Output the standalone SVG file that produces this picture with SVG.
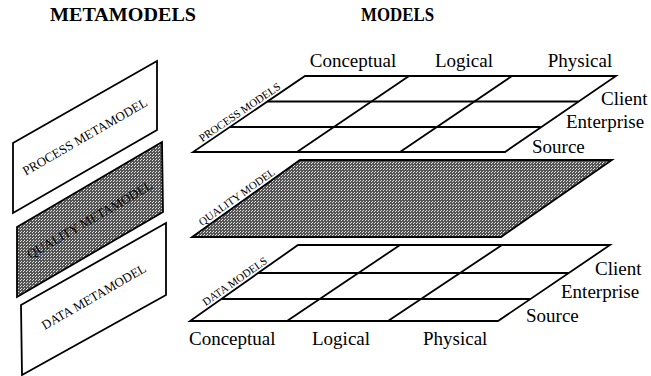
<svg xmlns="http://www.w3.org/2000/svg" width="651" height="376" viewBox="0 0 651 376">
<style>
.ln{stroke:#000;stroke-width:1.8;fill:none}
.box{stroke:#000;stroke-width:1.8;fill:#fff}
.dark{stroke:#000;stroke-width:1.8;fill:url(#stip)}
.hd{font-family:"Liberation Serif","Times New Roman",serif;font-weight:bold;font-size:18px;fill:#000}
.lb{font-family:"Liberation Serif","Times New Roman",serif;font-size:19px;fill:#000}
.sm{font-family:"Liberation Serif","Times New Roman",serif;font-size:13px;fill:#000;text-anchor:middle}
.pl{font-family:"Liberation Serif","Times New Roman",serif;font-size:11px;fill:#000;text-anchor:middle}
.mid{text-anchor:middle}
</style>
<defs>
<pattern id="stip" width="3" height="3" patternUnits="userSpaceOnUse">
<rect width="3" height="3" fill="#555555"/>
<rect x="0" y="0" width="1" height="1" fill="#e0e0e0"/>
<rect x="2" y="1" width="1" height="1" fill="#e0e0e0"/>
</pattern>
</defs>
<rect width="651" height="376" fill="#fff"/>
<g id="headers">
<text class="hd" x="50" y="21" textLength="146" lengthAdjust="spacingAndGlyphs">METAMODELS</text>
<text class="hd" x="361" y="21" textLength="73" lengthAdjust="spacingAndGlyphs">MODELS</text>
</g>
<g id="process-metamodel">
<polygon class="box" points="13,143 157,61 157,130 13,213"/>
<text class="sm" transform="translate(85,137) rotate(-30)" y="4">PROCESS METAMODEL</text>
</g>
<g id="quality-metamodel">
<polygon class="dark" points="17,227 162,142 163,212 17,297"/>
<text class="sm" transform="translate(90,220) rotate(-30)" y="4">QUALITY METAMODEL</text>
</g>
<g id="data-metamodel">
<polygon class="box" points="21,305 166,223 166,295 22,375"/>
<text class="sm" transform="translate(94,297) rotate(-30)" y="4">DATA METAMODEL</text>
</g>
<g id="process-models">
<polygon class="box" points="305,76 616,76 505,152 193,152"/>
<g class="ln">
<line x1="267.4" y1="101.5" x2="578.4" y2="101.5"/>
<line x1="229.8" y1="127" x2="540.8" y2="127"/>
<line x1="409" y1="76" x2="297" y2="152"/>
<line x1="512" y1="76" x2="400" y2="152"/>
</g>
<text class="pl" transform="translate(243.4,117.8) rotate(-34.2)" y="-3">PROCESS MODELS</text>
<text class="lb mid" x="353" y="67">Conceptual</text>
<text class="lb mid" x="464" y="67">Logical</text>
<text class="lb mid" x="580" y="67">Physical</text>
<text class="lb" x="601" y="105">Client</text>
<text class="lb" x="566" y="128">Enterprise</text>
<text class="lb" x="532" y="153">Source</text>
</g>
<g id="quality-model">
<polygon class="dark" points="300,160 612,160 501,237 192,237"/>
<text class="pl" transform="translate(240.6,202.4) rotate(-35.5)" y="-3">QUALITY MODEL</text>
</g>
<g id="data-models">
<polygon class="box" points="298,245 610,245 498,321 190,321"/>
<g class="ln">
<line x1="258.2" y1="273" x2="568.7" y2="273"/>
<line x1="221.3" y1="299" x2="530.4" y2="299"/>
<line x1="400" y1="245" x2="287" y2="321"/>
<line x1="502" y1="245" x2="388" y2="321"/>
</g>
<text class="pl" transform="translate(238.6,286.8) rotate(-35.1)" y="-3">DATA MODELS</text>
<text class="lb" x="595" y="275">Client</text>
<text class="lb" x="561" y="298">Enterprise</text>
<text class="lb" x="526" y="322">Source</text>
<text class="lb" x="189" y="345">Conceptual</text>
<text class="lb" x="312" y="345">Logical</text>
<text class="lb" x="423" y="345">Physical</text>
</g>
<g id="connectors"></g>
</svg>
